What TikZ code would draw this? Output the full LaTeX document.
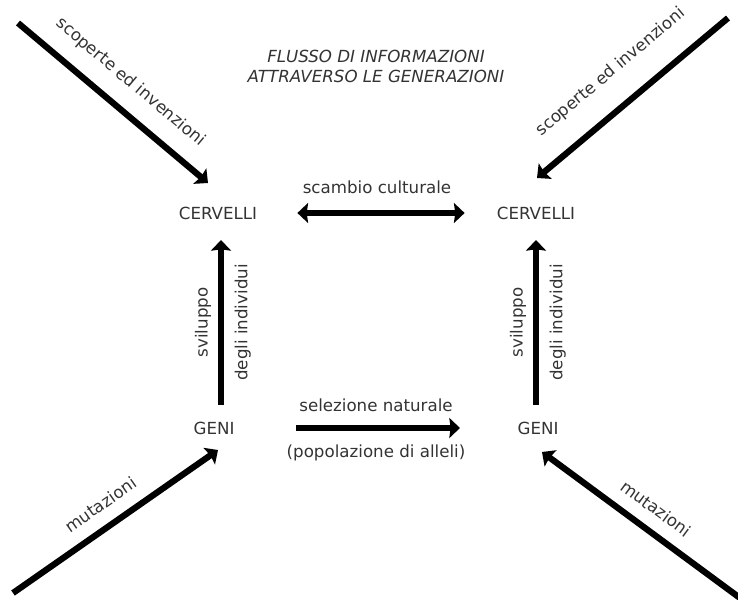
\documentclass[tikz,border=0pt]{standalone}
\usepackage{fontspec}
\setmainfont{DejaVu Sans}[ItalicFont={DejaVu Sans Oblique}]
\usepackage{tikz}
\usetikzlibrary{arrows.meta, positioning}

\tikzset{
  bigtip/.tip={Stealth[length=8pt, width=15pt, inset=1pt]},
  lbl/.style={inner sep=0pt, text=black!80, font=\fontsize{12.5}{15}\selectfont},
  flow/.style={line width=4.7pt, -bigtip},
}

\begin{document}
\begin{tikzpicture}[x=0.75pt, y=-0.75pt]
\useasboundingbox (0,0) rectangle (738,599);

\node [lbl, align=center, font=\fontsize{12.5}{15}\selectfont\itshape] (title) at (376,66) {FLUSSO DI INFORMAZIONI\\ATTRAVERSO LE GENERAZIONI};

\node [lbl] (cervL) at (218,213) {CERVELLI};
\node [lbl] (cervR) at (536,213) {CERVELLI};
\node [lbl] (geniL) at (214,428) {GENI};
\node [lbl] (geniR) at (538,428) {GENI};

\coordinate (inTL) at (18,23);
\coordinate (inTR) at (728,18);
\coordinate (inBL) at (13,593);
\coordinate (inBR) at (740,598);

% from outside
\draw [flow] (inTL) -- ([shift={(-10,-30)}]cervL.center) node [lbl, midway, sloped, above=12pt] {scoperte ed invenzioni};
\draw [flow] (inTR) -- ([shift={(1,-35)}]cervR.center) node [lbl, midway, sloped, above=17pt] {scoperte ed invenzioni};
\draw [flow] (inBL) -- ([shift={(4,22)}]geniL.center) node [lbl, pos=0.49, sloped, above=9.5pt] {mutazioni};
\draw [flow] (inBR) -- ([shift={(4,24)}]geniR.center) node [lbl, pos=0.49, sloped, above=9.5pt] {mutazioni};

% geni -> cervelli
\draw [flow] ([shift={(7,-23)}]geniL.center) -- ([shift={(3,27)}]cervL.center)
  node [lbl, midway, sloped, above=5pt] {sviluppo}
  node [lbl, midway, sloped, below=8pt] {degli individui};
\draw [flow] ([shift={(-2,-23)}]geniR.center) -- ([shift={(0,27)}]cervR.center)
  node [lbl, midway, sloped, above=5pt] {sviluppo}
  node [lbl, midway, sloped, below=8pt] {degli individui};

% across
\draw [flow, bigtip-bigtip, shorten <=30pt, shorten >=24pt] (cervL) -- (cervR) node [lbl, midway, above=12pt] {scambio culturale};
\draw [flow, shorten <=46pt, shorten >=43pt] (geniL) -- (geniR)
  node [lbl, midway, above=10pt] {selezione naturale}
  node [lbl, midway, below=10pt] {(popolazione di alleli)};
\end{tikzpicture}
\end{document}
